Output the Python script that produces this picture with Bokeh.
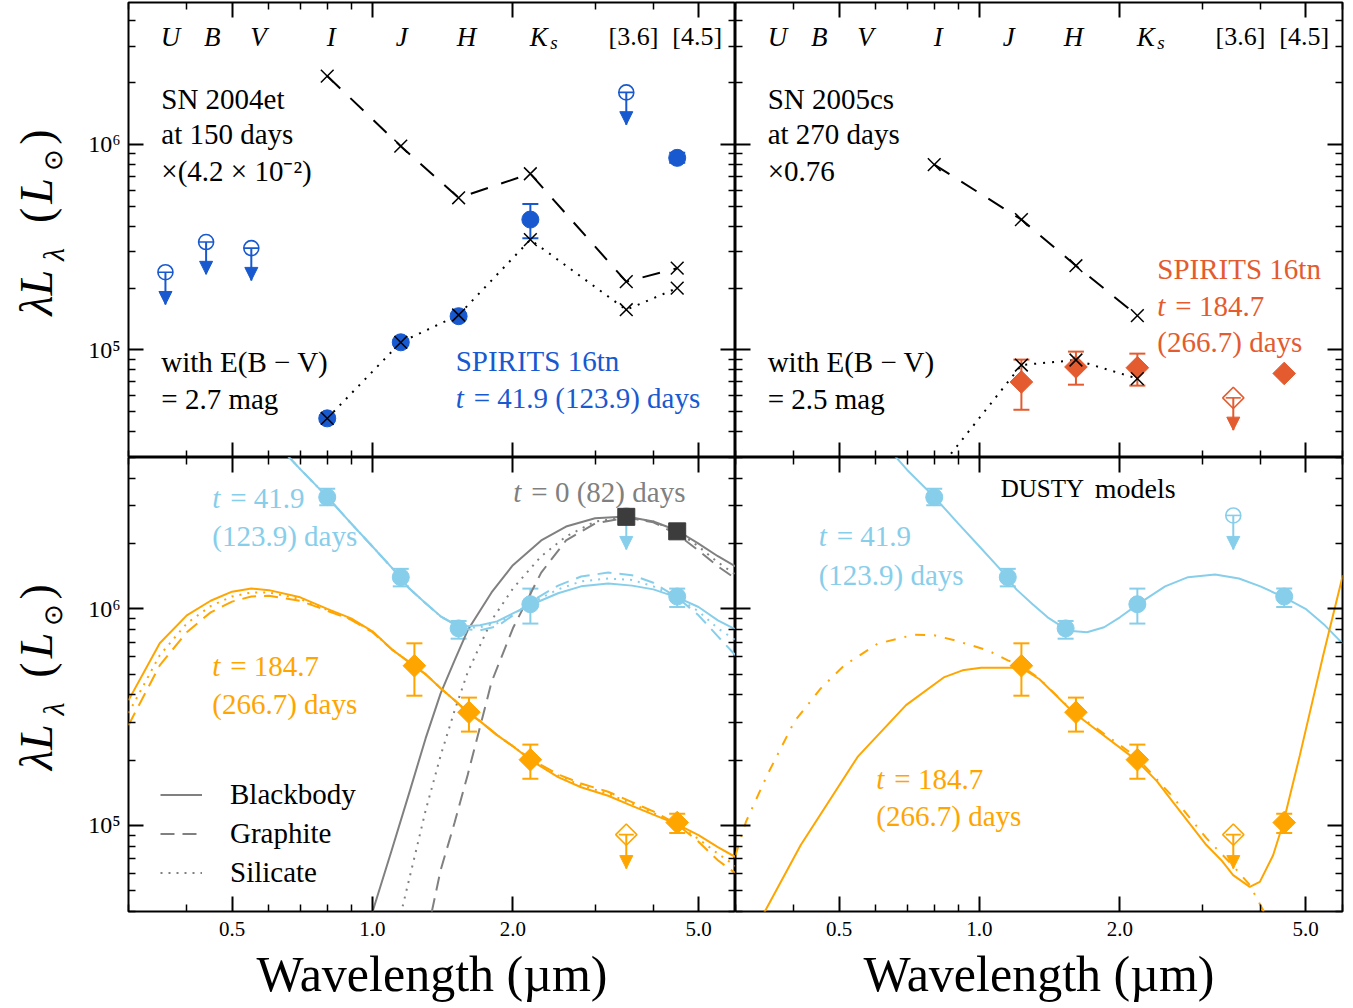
import math
from bokeh.plotting import figure
from bokeh.models import (Range1d, LogAxis, FixedTicker, Whisker, TeeHead, NormalHead,
                          Label, Legend, LegendItem, ColumnDataSource, CustomJSTickFormatter,
                          PrintfTickFormatter)
from bokeh.layouts import gridplot
from bokeh.core.properties import value
from bokeh.embed import file_html
from bokeh.resources import INLINE

# ===================== data =====================
# --- top-left: SN 2004et at 150 days ---
sn04et_lam = [0.80, 1.15, 1.53, 2.18, 3.5, 4.5]
sn04et_scaled = [2.15e6, 9.8e5, 5.5e5, 7.2e5, 2.15e5, 2.5e5]
sn04et_reddened = [4.65e4, 1.09e5, 1.48e5, 3.44e5, 1.57e5, 2.0e5]
# SPIRITS 16tn, t = 41.9 d, observed
ep1_obs_lam = [0.80, 1.15, 1.53, 2.18, 4.5]
ep1_obs = [4.65e4, 1.09e5, 1.46e5, 4.31e5, 8.60e5]
ep1_obs_lo = [4.5e4, 1.06e5, 1.42e5, 3.50e5, 8.15e5]
ep1_obs_hi = [4.8e4, 1.12e5, 1.50e5, 5.13e5, 9.10e5]
ep1_obs_ul_lam = [0.36, 0.44, 0.55, 3.5]
ep1_obs_ul = [2.39e5, 3.35e5, 3.13e5, 1.79e6]

# --- top-right: SN 2005cs at 270 days ---
sn05cs_lam = [0.80, 1.23, 1.61, 2.18]
sn05cs_scaled = [7.98e5, 4.31e5, 2.57e5, 1.47e5]
sn05cs_reddened = [2.47e4, 8.45e4, 8.94e4, 7.26e4]
# SPIRITS 16tn, t = 184.7 d, observed
ep2_obs_lam = [1.23, 1.61, 2.18, 4.5]
ep2_obs = [6.99e4, 8.27e4, 8.20e4, 7.69e4]
ep2_obs_lo = [5.12e4, 6.78e4, 6.71e4, 7.5e4]
ep2_obs_hi = [8.98e4, 9.82e4, 9.60e4, 7.9e4]
ep2_obs_ul_lam = [3.5]
ep2_obs_ul = [5.85e4]

# --- bottom: de-reddened SEDs ---
ep0_lam = [3.5, 4.5]
ep0_L = [2.66e6, 2.28e6]
ep1_dered_lam = [0.80, 1.15, 1.53, 2.18, 4.5]
ep1_dered = [3.28e6, 1.40e6, 8.12e5, 1.05e6, 1.14e6]
ep1_dered_lo = [3.01e6, 1.27e6, 7.28e5, 8.55e5, 1.02e6]
ep1_dered_hi = [3.59e6, 1.53e6, 8.79e5, 1.24e6, 1.24e6]
ep1_dered_ul_lam = [3.5]
ep1_dered_ul = [2.70e6]
ep2_dered_lam = [1.23, 1.61, 2.18, 4.5]
ep2_dered = [5.46e5, 3.33e5, 2.01e5, 1.03e5]
ep2_dered_lo = [3.97e5, 2.71e5, 1.64e5, 9.22e4]
ep2_dered_hi = [6.93e5, 3.89e5, 2.36e5, 1.13e5]
ep2_dered_ul_lam = [3.5]
ep2_dered_ul = [9.06e4]

# --- model curves, bottom-left ---
t0_bb_lam = [1.0, 1.1, 1.2, 1.3, 1.4, 1.5, 1.6, 1.8, 2.0, 2.3, 2.6, 3.0, 3.5, 4.0, 4.5, 5.0, 5.5, 6.0]
t0_bb_L = [3.98e4, 7.69e4, 1.42e5, 2.52e5, 4.07e5, 5.78e5, 7.96e5, 1.19e6, 1.59e6, 2.07e6,
           2.40e6, 2.62e6, 2.67e6, 2.53e6, 2.30e6, 2.00e6, 1.75e6, 1.57e6]
t0_sil_lam = [1.15, 1.2, 1.3, 1.4, 1.5, 1.6, 1.8, 2.0, 2.3, 2.6, 3.0, 3.5, 4.0, 4.5, 5.0, 5.5, 6.0]
t0_sil_L = [3.89e4, 5.69e4, 1.17e5, 2.10e5, 3.39e5, 5.09e5, 8.85e5, 1.24e6, 1.75e6, 2.16e6,
            2.53e6, 2.64e6, 2.53e6, 2.28e6, 1.94e6, 1.64e6, 1.44e6]
t0_gra_lam = [1.34, 1.4, 1.5, 1.6, 1.8, 2.0, 2.3, 2.6, 3.0, 3.5, 4.0, 4.5, 5.0, 5.5, 6.0]
t0_gra_L = [3.98e4, 6.21e4, 1.03e5, 1.71e5, 4.59e5, 8.13e5, 1.47e6, 2.07e6, 2.48e6, 2.64e6,
            2.51e6, 2.21e6, 1.86e6, 1.57e6, 1.38e6]

t1_lam = [0.66, 0.70, 0.80, 0.90, 1.0, 1.1, 1.2, 1.3, 1.4, 1.5, 1.6, 1.7, 1.85, 2.0, 2.2, 2.5,
          2.8, 3.2, 3.6, 4.0, 4.5, 5.0, 5.5, 6.0]
t1_bb_L = [5.06e6, 4.42e6, 3.29e6, 2.48e6, 1.94e6, 1.55e6, 1.24e6, 1.06e6, 9.23e5, 8.48e5,
           8.30e5, 8.39e5, 8.75e5, 9.53e5, 1.05e6, 1.18e6, 1.27e6, 1.31e6, 1.28e6, 1.23e6,
           1.13e6, 1.02e6, 8.85e5, 8.04e5]
t1_gra_L = [5.06e6, 4.42e6, 3.29e6, 2.48e6, 1.94e6, 1.55e6, 1.24e6, 1.06e6, 9.23e5, 8.48e5,
            8.04e5, 7.96e5, 8.30e5, 9.33e5, 1.09e6, 1.28e6, 1.41e6, 1.47e6, 1.43e6, 1.32e6,
            1.13e6, 9.33e5, 7.46e5, 6.10e5]
t1_sil_L = [5.06e6, 4.42e6, 3.29e6, 2.48e6, 1.94e6, 1.55e6, 1.24e6, 1.06e6, 9.23e5, 8.48e5,
            8.17e5, 8.22e5, 8.57e5, 9.44e5, 1.07e6, 1.23e6, 1.34e6, 1.38e6, 1.36e6, 1.27e6,
            1.13e6, 9.73e5, 8.13e5, 7.16e5]

t2_lam = [0.30, 0.35, 0.40, 0.45, 0.50, 0.55, 0.60, 0.70, 0.80, 0.90, 1.0, 1.1, 1.2, 1.3, 1.4,
          1.5, 1.6, 1.7, 1.85, 2.0, 2.2, 2.5, 2.8, 3.2, 3.6, 4.0, 4.5, 5.0, 5.5, 6.0]
t2_bb_L = [3.78e5, 6.93e5, 9.33e5, 1.09e6, 1.20e6, 1.24e6, 1.22e6, 1.13e6, 1.00e6, 9.03e5,
           7.87e5, 6.50e5, 5.66e5, 4.99e5, 4.30e5, 3.78e5, 3.33e5, 3.03e5, 2.61e5, 2.32e5,
           1.98e5, 1.67e5, 1.50e5, 1.37e5, 1.23e5, 1.12e5, 1.01e5, 9.02e4, 7.94e4, 7.14e4]
t2_gra_L = [2.90e5, 5.48e5, 7.80e5, 9.63e5, 1.08e6, 1.14e6, 1.15e6, 1.09e6, 9.80e5, 8.90e5,
            7.80e5, 6.50e5, 5.66e5, 4.99e5, 4.30e5, 3.78e5, 3.33e5, 3.03e5, 2.61e5, 2.32e5,
            2.00e5, 1.72e5, 1.56e5, 1.43e5, 1.28e5, 1.16e5, 1.01e5, 8.40e4, 6.90e4, 6.00e4]
t2_sil_L = [3.30e5, 6.10e5, 8.57e5, 1.03e6, 1.14e6, 1.19e6, 1.19e6, 1.11e6, 9.90e5, 8.95e5,
            7.85e5, 6.50e5, 5.66e5, 4.99e5, 4.30e5, 3.78e5, 3.33e5, 3.03e5, 2.61e5, 2.32e5,
            1.99e5, 1.70e5, 1.53e5, 1.40e5, 1.26e5, 1.14e5, 1.01e5, 8.65e4, 7.40e4, 6.50e4]

# --- DUSTY models, bottom-right ---
dusty_t1_lam = [0.66, 0.70, 0.80, 0.90, 1.0, 1.1, 1.2, 1.3, 1.4, 1.5, 1.6, 1.7, 1.85, 2.0, 2.2,
                2.5, 2.8, 3.2, 3.6, 4.0, 4.5, 5.0, 5.5, 6.0]
dusty_t1_L = [5.06e6, 4.38e6, 3.29e6, 2.48e6, 1.94e6, 1.55e6, 1.23e6, 1.05e6, 9.14e5, 8.30e5,
              7.87e5, 7.79e5, 8.22e5, 9.14e5, 1.06e6, 1.27e6, 1.40e6, 1.44e6, 1.38e6, 1.27e6,
              1.13e6, 1.00e6, 8.39e5, 6.93e5]
dusty_t2_lam = [0.34, 0.414, 0.548, 0.696, 0.841, 0.92, 1.008, 1.229, 1.345, 1.586, 2.169, 2.4,
                2.599, 3.065, 3.3, 3.497, 3.797, 3.99, 4.26, 4.476, 4.862, 5.455, 6.01]
dusty_t2_L = [3.7e4, 8.11e4, 2.07e5, 3.59e5, 4.84e5, 5.20e5, 5.35e5, 5.35e5, 4.73e5, 3.34e5,
              2.00e5, 1.60e5, 1.28e5, 8.11e4, 6.90e4, 5.89e4, 5.20e4, 5.48e4, 7.28e4, 1.02e5,
              2.11e5, 6.10e5, 1.43e6]
dusty_t2b_lam = [0.30, 0.316, 0.351, 0.401, 0.457, 0.513, 0.605, 0.725, 0.80, 0.884, 1.042, 1.15,
                 1.229, 1.345, 1.586, 2.169, 2.599, 3.065, 3.497, 3.797, 4.0, 4.15]
dusty_t2b_L = [7.28e4, 1.04e5, 1.71e5, 3.01e5, 4.29e5, 5.48e5, 6.90e5, 7.60e5, 7.55e5, 7.16e5,
               6.43e5, 5.78e5, 5.48e5, 4.75e5, 3.36e5, 2.07e5, 1.35e5, 8.73e4, 6.49e4, 5.30e4,
               4.29e4, 3.7e4]

# ===================== style =====================
FONT = "Liberation Serif"
BLUE = "#1859d0"
RED = "#e35b2f"
SKY = "#87ceeb"
ORANGE = "#ffa500"
GRAY = "#808080"
DARK = "#3c3c3c"
X_RANGE = (0.3, 6.0)
TOP_Y = (3.0e4, 4.9e6)
BOT_Y = (4.0e4, 5.0e6)
UL_TIP = 10 ** -0.157   # upper-limit bar of 0.1 dex plus arrow head
TXT = 29
LAB_W = 78              # width of the strip holding the rotated y label
BOT_BORDER = 97


def frac_pt(fx, fy, yr):
    x = X_RANGE[0] * (X_RANGE[1] / X_RANGE[0]) ** fx
    y = yr[0] * (yr[1] / yr[0]) ** fy
    return x, y


def add_text(p, yr, fx, fy, s, size=TXT, color="black", style="normal", align="left",
             x_offset=0):
    x, y = frac_pt(fx, fy, yr)
    p.add_layout(Label(x=x, y=y, text=s, text_font=FONT, text_font_size=f"{size}px",
                       text_color=color, text_font_style=style, text_align=align,
                       text_baseline="middle", x_offset=x_offset))


def t_text(p, yr, fx, fy, rest, color, size=TXT):
    add_text(p, yr, fx, fy, "t", size=size, color=color, style="italic")
    add_text(p, yr, fx, fy, rest, size=size, color=color, x_offset=18)


def label_strip(frame_h, is_bottom):
    """Narrow strip left of a row that carries the rotated  λL_λ (L_⊙)  label."""
    s = figure(x_range=Range1d(0, 1), y_range=Range1d(0, 1),
               frame_width=LAB_W, frame_height=frame_h,
               x_axis_location=None, y_axis_location=None,
               output_backend="svg", toolbar_location=None,
               min_border_left=0, min_border_right=0,
               min_border_top=0 if is_bottom else 2,
               min_border_bottom=BOT_BORDER if is_bottom else 0,
               background_fill_color="white", border_fill_color="white")
    s.outline_line_color = None
    s.xgrid.grid_line_color = None
    s.ygrid.grid_line_color = None
    main_x, sub_x = 36 / LAB_W, 53 / LAB_W
    parts = [("λL", 46, "italic", main_x, 0.362),
             ("λ", 30, "italic", sub_x, 0.446),
             ("(", 46, "normal", main_x, 0.532),
             ("L", 46, "italic", main_x, 0.586),
             ("⊙", 26, "normal", sub_x, 0.654),
             (")", 46, "normal", main_x, 0.704)]
    for txt, size, style, x, y in parts:
        s.add_layout(Label(x=x, y=y, text=txt, text_font=FONT, text_font_size=f"{size}px",
                           text_font_style=style, text_color="black", text_align="center",
                           text_baseline="middle", angle=math.pi / 2))
    return s


def make_panel(yr, frame_h, is_left, is_bottom):
    p = figure(x_axis_type="log", y_axis_type="log",
               x_range=Range1d(*X_RANGE), y_range=Range1d(*yr),
               frame_width=607, frame_height=frame_h,
               output_backend="svg", toolbar_location=None,
               min_border_left=128 - LAB_W if is_left else 0,
               min_border_right=0 if is_left else 4,
               min_border_top=0 if is_bottom else 2,
               min_border_bottom=BOT_BORDER if is_bottom else 0,
               background_fill_color="white", border_fill_color="white")
    p.add_layout(LogAxis(), "above")
    p.add_layout(LogAxis(), "right")
    p.xgrid.grid_line_color = None
    p.ygrid.grid_line_color = None
    p.outline_line_color = "black"
    p.outline_line_width = 2
    yminor = [m * 10 ** e for e in (4, 5, 6) for m in range(2, 10)]
    for ax in p.xaxis:
        ax.ticker = FixedTicker(ticks=[0.5, 1, 2, 5],
                                minor_ticks=[0.3, 0.4, 0.6, 0.7, 0.8, 0.9, 3, 4, 6])
    for ax in p.yaxis:
        ax.ticker = FixedTicker(ticks=[1e5, 1e6], minor_ticks=yminor)
    for ax in p.axis:
        ax.axis_line_color = None
        ax.major_tick_in = 15
        ax.major_tick_out = 0
        ax.minor_tick_in = 7
        ax.minor_tick_out = 0
        ax.major_tick_line_width = 2
        ax.minor_tick_line_width = 1.5
        ax.major_tick_line_color = "black"
        ax.minor_tick_line_color = "black"
        ax.major_label_text_font_size = "1px"
        ax.major_label_text_color = None
        ax.major_label_standoff = 0
    if is_bottom:
        ax = p.below[0]
        ax.formatter = PrintfTickFormatter(format="%.1f")
        ax.major_label_text_font = FONT
        ax.major_label_text_font_size = "21px"
        ax.major_label_text_color = "black"
        ax.major_label_standoff = 10
        ax.axis_label = "Wavelength (µm)"
        ax.axis_label_text_font = FONT
        ax.axis_label_text_font_style = "normal"
        ax.axis_label_text_font_size = "50px"
        ax.axis_label_text_color = "black"
        ax.axis_label_standoff = 7
    if is_left:
        ax = p.left[0]
        ax.formatter = CustomJSTickFormatter(code="""
            const e = Math.round(Math.log10(tick));
            const sup = {4: "\u2074", 5: "\u2075", 6: "\u2076", 7: "\u2077"};
            return "10" + sup[e];
        """)
        ax.major_label_text_font = FONT
        ax.major_label_text_font_size = "24px"
        ax.major_label_text_color = "black"
        ax.major_label_standoff = 8
    return p


def detections(p, lam, val, lo, hi, color, marker, size, angle=0.0):
    src = ColumnDataSource(dict(x=list(lam), y=list(val), lo=list(lo), hi=list(hi)))
    p.add_layout(Whisker(source=src, base="x", lower="lo", upper="hi", dimension="height",
                         line_color=color, line_width=2,
                         upper_head=TeeHead(size=16, line_color=color, line_width=2),
                         lower_head=TeeHead(size=16, line_color=color, line_width=2)))
    p.scatter(x="x", y="y", source=src, marker=marker, size=size, angle=angle,
              fill_color=color, line_color=color)


def upper_limits(p, lam, val, color, marker, size, angle=0.0):
    src = ColumnDataSource(dict(x=list(lam), top=list(val), tip=[v * UL_TIP for v in val]))
    p.add_layout(Whisker(source=src, base="x", upper="top", lower="tip", dimension="height",
                         line_color=color, line_width=2,
                         upper_head=TeeHead(size=15, line_color=color, line_width=1.6),
                         lower_head=NormalHead(size=13, fill_color=color, line_color=color,
                                               line_width=1)))
    p.scatter(x="x", y="top", source=src, marker=marker, size=size, angle=angle,
              fill_color=None, line_color=color, line_width=1.6)


def band_labels(p, yr):
    names = [("U", 0.069), ("B", 0.138), ("V", 0.214), ("I", 0.334), ("J", 0.450),
             ("H", 0.557), ("K", 0.676)]
    for s, fx in names:
        add_text(p, yr, fx, 0.925, s, size=27, style="italic", align="center")
    add_text(p, yr, 0.701, 0.911, "s", size=19, style="italic", align="center")
    add_text(p, yr, 0.832, 0.925, "[3.6]", size=26, align="center")
    add_text(p, yr, 0.937, 0.925, "[4.5]", size=26, align="center")


DIAMOND = math.pi / 4

# ===================== top-left =====================
p1 = make_panel(TOP_Y, 455, True, False)
p1.line(sn04et_lam, sn04et_scaled, line_color="black", line_width=2, line_dash="18 14")
p1.line(sn04et_lam, sn04et_reddened, line_color="black", line_width=2, line_dash="2 7")
upper_limits(p1, ep1_obs_ul_lam, ep1_obs_ul, BLUE, "circle", 15)
detections(p1, ep1_obs_lam, ep1_obs, ep1_obs_lo, ep1_obs_hi, BLUE, "circle", 17)
p1.scatter(sn04et_lam, sn04et_scaled, marker="x", size=18, line_color="black", line_width=1.5)
p1.scatter(sn04et_lam, sn04et_reddened, marker="x", size=18, line_color="black", line_width=1.5)
band_labels(p1, TOP_Y)
add_text(p1, TOP_Y, 0.054, 0.789, "SN 2004et")
add_text(p1, TOP_Y, 0.054, 0.712, "at 150 days")
add_text(p1, TOP_Y, 0.054, 0.630, "×(4.2 × 10⁻²)")
add_text(p1, TOP_Y, 0.054, 0.210, "with E(B − V)")
add_text(p1, TOP_Y, 0.054, 0.129, "= 2.7 mag")
add_text(p1, TOP_Y, 0.539, 0.213, "SPIRITS 16tn", color=BLUE)
t_text(p1, TOP_Y, 0.539, 0.131, "= 41.9 (123.9) days", BLUE)

# ===================== top-right =====================
p2 = make_panel(TOP_Y, 455, False, False)
p2.line(sn05cs_lam, sn05cs_scaled, line_color="black", line_width=2, line_dash="18 14")
p2.line(sn05cs_lam, sn05cs_reddened, line_color="black", line_width=2, line_dash="2 7")
upper_limits(p2, ep2_obs_ul_lam, ep2_obs_ul, RED, "square", 15, DIAMOND)
detections(p2, ep2_obs_lam, ep2_obs, ep2_obs_lo, ep2_obs_hi, RED, "square", 16, DIAMOND)
p2.scatter(sn05cs_lam, sn05cs_scaled, marker="x", size=18, line_color="black", line_width=1.5)
p2.scatter(sn05cs_lam, sn05cs_reddened, marker="x", size=18, line_color="black", line_width=1.5)
band_labels(p2, TOP_Y)
add_text(p2, TOP_Y, 0.053, 0.789, "SN 2005cs")
add_text(p2, TOP_Y, 0.053, 0.712, "at 270 days")
add_text(p2, TOP_Y, 0.053, 0.630, "×0.76")
add_text(p2, TOP_Y, 0.053, 0.210, "with E(B − V)")
add_text(p2, TOP_Y, 0.053, 0.129, "= 2.5 mag")
add_text(p2, TOP_Y, 0.695, 0.415, "SPIRITS 16tn", color=RED)
t_text(p2, TOP_Y, 0.695, 0.334, "= 184.7", RED)
add_text(p2, TOP_Y, 0.695, 0.254, "(266.7) days", color=RED)

# ===================== bottom-left =====================
p3 = make_panel(BOT_Y, 454, True, True)
r_bb = p3.line(t0_bb_lam, t0_bb_L, line_color=GRAY, line_width=2)
r_gra = p3.line(t0_gra_lam, t0_gra_L, line_color=GRAY, line_width=2, line_dash="14 8")
r_sil = p3.line(t0_sil_lam, t0_sil_L, line_color=GRAY, line_width=2, line_dash="2 6")
p3.line(t1_lam, t1_gra_L, line_color=SKY, line_width=2, line_dash="14 8")
p3.line(t1_lam, t1_sil_L, line_color=SKY, line_width=2, line_dash="2 6")
p3.line(t1_lam, t1_bb_L, line_color=SKY, line_width=2)
p3.line(t2_lam, t2_gra_L, line_color=ORANGE, line_width=2, line_dash="14 8")
p3.line(t2_lam, t2_sil_L, line_color=ORANGE, line_width=2, line_dash="2 6")
p3.line(t2_lam, t2_bb_L, line_color=ORANGE, line_width=2)
upper_limits(p3, ep2_dered_ul_lam, ep2_dered_ul, ORANGE, "square", 15, DIAMOND)
detections(p3, ep2_dered_lam, ep2_dered, ep2_dered_lo, ep2_dered_hi, ORANGE, "square", 16, DIAMOND)
upper_limits(p3, ep1_dered_ul_lam, ep1_dered_ul, SKY, "circle", 15)
detections(p3, ep1_dered_lam, ep1_dered, ep1_dered_lo, ep1_dered_hi, SKY, "circle", 17)
p3.scatter(ep0_lam, ep0_L, marker="square", size=17, fill_color=DARK, line_color=DARK)
t_text(p3, BOT_Y, 0.138, 0.911, "= 41.9", SKY)
add_text(p3, BOT_Y, 0.138, 0.828, "(123.9) days", color=SKY)
t_text(p3, BOT_Y, 0.634, 0.925, "= 0 (82) days", GRAY)
t_text(p3, BOT_Y, 0.138, 0.541, "= 184.7", ORANGE)
add_text(p3, BOT_Y, 0.138, 0.456, "(266.7) days", color=ORANGE)
legend = Legend(items=[LegendItem(label=value("Blackbody"), renderers=[r_bb]),
                       LegendItem(label=value("Graphite"), renderers=[r_gra]),
                       LegendItem(label=value("Silicate"), renderers=[r_sil])],
                location=(32, 19), orientation="vertical",
                border_line_color=None, background_fill_alpha=0,
                glyph_width=42, glyph_height=39, label_height=39, label_standoff=28,
                spacing=0, padding=0, margin=0, label_text_color="black",
                label_text_font=FONT, label_text_font_size="29px")
p3.add_layout(legend)

# ===================== bottom-right =====================
p4 = make_panel(BOT_Y, 454, False, True)
p4.line(dusty_t1_lam, dusty_t1_L, line_color=SKY, line_width=2)
p4.line(dusty_t2b_lam, dusty_t2b_L, line_color=ORANGE, line_width=2, line_dash="10 9 2 9")
p4.line(dusty_t2_lam, dusty_t2_L, line_color=ORANGE, line_width=2)
upper_limits(p4, ep2_dered_ul_lam, ep2_dered_ul, ORANGE, "square", 15, DIAMOND)
detections(p4, ep2_dered_lam, ep2_dered, ep2_dered_lo, ep2_dered_hi, ORANGE, "square", 16, DIAMOND)
upper_limits(p4, ep1_dered_ul_lam, ep1_dered_ul, SKY, "circle", 15)
detections(p4, ep1_dered_lam, ep1_dered, ep1_dered_lo, ep1_dered_hi, SKY, "circle", 17)
add_text(p4, BOT_Y, 0.437, 0.931, "DUSTY", size=25)
add_text(p4, BOT_Y, 0.592, 0.931, "models", size=28)
t_text(p4, BOT_Y, 0.137, 0.828, "= 41.9", SKY)
add_text(p4, BOT_Y, 0.137, 0.742, "(123.9) days", color=SKY)
t_text(p4, BOT_Y, 0.232, 0.291, "= 184.7", ORANGE)
add_text(p4, BOT_Y, 0.232, 0.211, "(266.7) days", color=ORANGE)

lab_top = label_strip(455, False)
lab_bot = label_strip(454, True)

grid = gridplot([[lab_top, p1, p2], [lab_bot, p3, p4]], toolbar_location=None)
open("out.html", "w", encoding="utf-8").write(file_html(grid, INLINE))
